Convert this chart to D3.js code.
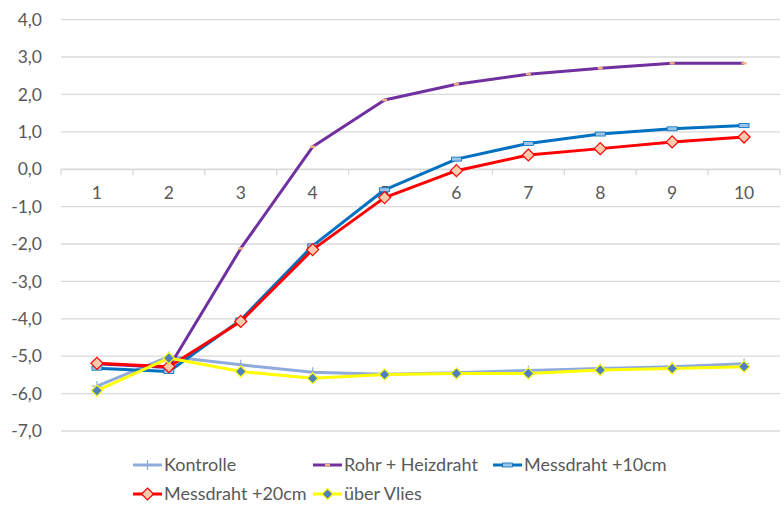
<!DOCTYPE html>
<html>
<head>
<meta charset="utf-8">
<script src="https://cdn.jsdelivr.net/npm/d3@7"></script>
<style>
  html, body { margin: 0; padding: 0; background: #fff; }
  svg { display: block; font-family: Lato, "Liberation Sans", sans-serif; }
</style>
</head>
<body>
<svg id="chart" width="784" height="506"></svg>
<script>
// Messzeitpunkte
const categories = [1, 2, 3, 4, 5, 6, 7, 8, 9, 10];

// Messreihen
const kontrolle       = [-5.80, -5.01, -5.23, -5.43, -5.48, -5.44, -5.38, -5.33, -5.28, -5.20];
const rohrHeizdraht   = [-5.20, -5.30, -2.12, 0.60, 1.85, 2.27, 2.54, 2.70, 2.83, 2.83];
const messdraht10     = [-5.32, -5.41, -4.03, -2.05, -0.55, 0.27, 0.69, 0.94, 1.08, 1.17];
const messdraht20     = [-5.19, -5.28, -4.07, -2.15, -0.76, -0.04, 0.38, 0.55, 0.73, 0.86];
const ueberVlies      = [-5.92, -5.05, -5.41, -5.59, -5.49, -5.46, -5.46, -5.37, -5.33, -5.28];

const yTicks = [4, 3, 2, 1, 0, -1, -2, -3, -4, -5, -6, -7];

const seriesNames = ["Kontrolle", "Rohr + Heizdraht", "Messdraht +10cm", "Messdraht +20cm", "über Vlies"];

const series = [
  { name: seriesNames[0], values: kontrolle,     color: "#8FAADC", marker: "plus" },
  { name: seriesNames[1], values: rohrHeizdraht, color: "#7030A0", marker: "smallrect" },
  { name: seriesNames[2], values: messdraht10,   color: "#0070C0", marker: "dash" },
  { name: seriesNames[3], values: messdraht20,   color: "#FF0000", marker: "diamondOrange" },
  { name: seriesNames[4], values: ueberVlies,    color: "#FFFF00", marker: "diamondBlue" }
];

const svg = d3.select("#chart");
const textColor = "#595959";
const gridColor = "#D9D9D9";
const axisFont = 17.5;
const legendFont = 18;

const x = d3.scaleBand().domain(categories).range([61, 780]).padding(0);
const y = d3.scaleLinear().domain([-7, 4]).range([431, 19.6]);
const cx = d => x(d) + x.bandwidth() / 2;

// Horizontale Gitterlinien
svg.append("g")
  .selectAll("line")
  .data(yTicks)
  .join("line")
  .attr("x1", 61).attr("x2", 780)
  .attr("y1", d => y(d)).attr("y2", d => y(d))
  .attr("stroke", gridColor).attr("stroke-width", 1.3);

// Y-Achse (Beschriftung)
const yAxis = d3.axisLeft(y)
  .tickValues(yTicks)
  .tickSize(0)
  .tickPadding(0)
  .tickFormat(d => d3.format(".1f")(d).replace(".", ",").replace("−", "-"));
const gy = svg.append("g").attr("transform", "translate(42,0)").call(yAxis);
gy.select(".domain").remove();
gy.selectAll("text")
  .attr("fill", textColor)
  .style("font-size", axisFont + "px")
  .style("font-family", "Lato, 'Liberation Sans', sans-serif");

// Kategorienachse auf der Nulllinie
const xAxis = d3.axisBottom(x).tickSize(0).tickPadding(17);
const gx = svg.append("g").attr("transform", `translate(0,${y(0)})`).call(xAxis);
gx.select(".domain").attr("stroke", gridColor).attr("stroke-width", 1.3);
gx.selectAll("text")
  .attr("fill", textColor)
  .style("font-size", axisFont + "px")
  .style("font-family", "Lato, 'Liberation Sans', sans-serif");

// Teilstriche an den Kategoriegrenzen
const boundaries = categories.map(c => x(c)).concat([x(categories[categories.length - 1]) + x.bandwidth()]);
svg.append("g")
  .selectAll("line")
  .data(boundaries)
  .join("line")
  .attr("x1", d => d).attr("x2", d => d)
  .attr("y1", y(0)).attr("y2", y(0) + 6)
  .attr("stroke", gridColor).attr("stroke-width", 1.3);

const line = d3.line()
  .x((d, i) => cx(categories[i]))
  .y(d => y(d));

function drawMarker(g, type, color, px, py) {
  if (type === "plus") {
    g.append("line").attr("x1", px).attr("x2", px).attr("y1", py - 5).attr("y2", py + 5)
      .attr("stroke", color).attr("stroke-width", 1.2);
    g.append("line").attr("x1", px - 5).attr("x2", px + 5).attr("y1", py).attr("y2", py)
      .attr("stroke", color).attr("stroke-width", 1.2);
  } else if (type === "smallrect") {
    g.append("rect").attr("x", px - 2.5).attr("y", py - 1.2).attr("width", 5).attr("height", 2.4)
      .attr("fill", "#F4B183").attr("stroke", "none");
  } else if (type === "dash") {
    g.append("rect").attr("x", px - 5).attr("y", py - 2).attr("width", 10).attr("height", 4)
      .attr("fill", "#9DC3E6").attr("stroke", color).attr("stroke-width", 0.8);
  } else if (type === "diamondOrange") {
    const s = 6;
    g.append("path").attr("d", `M${px},${py - s}L${px + s},${py}L${px},${py + s}L${px - s},${py}Z`)
      .attr("fill", "#F8CBAD").attr("stroke", "#FF0000").attr("stroke-width", 1.2);
  } else if (type === "diamondBlue") {
    const s = 5.5;
    g.append("path").attr("d", `M${px},${py - s}L${px + s},${py}L${px},${py + s}L${px - s},${py}Z`)
      .attr("fill", "#4F81BD").attr("stroke", "#FFFF00").attr("stroke-width", 1.2);
  }
}

// Linien und Markierungen
series.forEach(s => {
  const g = svg.append("g");
  g.append("path")
    .datum(s.values)
    .attr("d", line)
    .attr("fill", "none")
    .attr("stroke", s.color)
    .attr("stroke-width", 3)
    .attr("stroke-linejoin", "round");
  s.values.forEach((v, i) => drawMarker(g, s.marker, s.color, cx(categories[i]), y(v)));
});

// Legende
const legendItems = [
  { s: series[0], x: 133, y: 465 },
  { s: series[1], x: 313, y: 465 },
  { s: series[2], x: 493, y: 465 },
  { s: series[3], x: 133, y: 494 },
  { s: series[4], x: 313, y: 494 }
];
const lg = svg.append("g");
legendItems.forEach(it => {
  const g = lg.append("g");
  g.append("line")
    .attr("x1", it.x).attr("x2", it.x + 29)
    .attr("y1", it.y).attr("y2", it.y)
    .attr("stroke", it.s.color).attr("stroke-width", 3);
  drawMarker(g, it.s.marker, it.s.color, it.x + 14.5, it.y);
  g.append("text")
    .attr("x", it.x + 31).attr("y", it.y)
    .attr("dy", "0.35em")
    .attr("fill", textColor)
    .style("font-size", legendFont + "px")
    .text(it.s.name);
});
</script>
</body>
</html>
